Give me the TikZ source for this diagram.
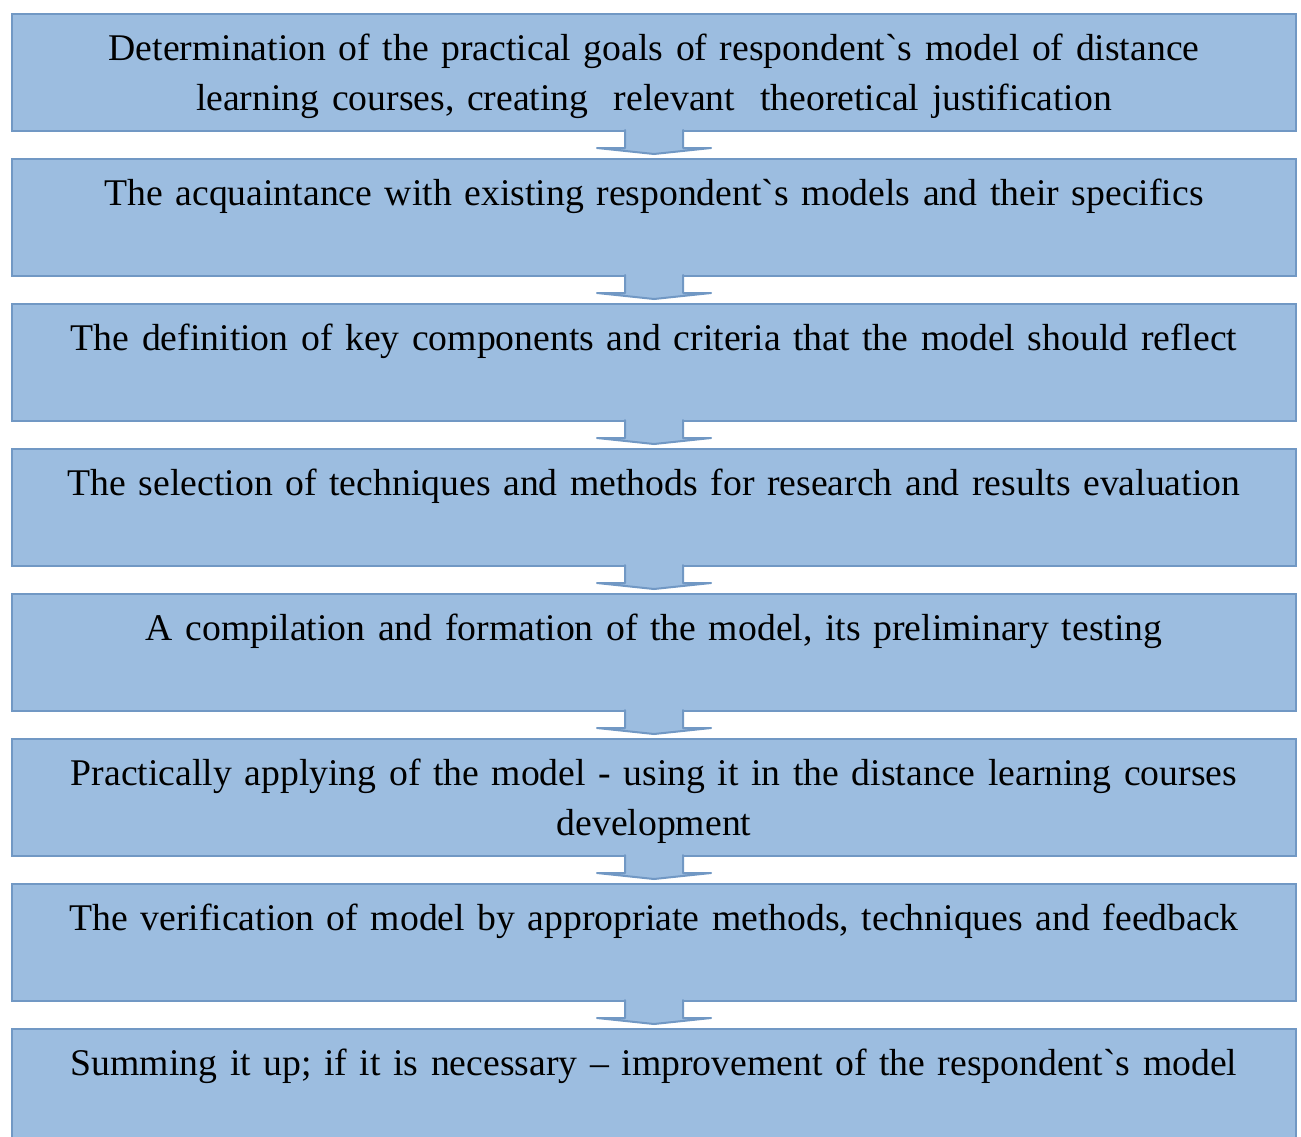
\documentclass[tikz,border=0pt]{standalone}
\usepackage{fontspec}
\setmainfont{Liberation Serif}[Ligatures=TeXOff]
\usetikzlibrary{positioning}
\definecolor{stagefill}{HTML}{9CBDE0}
\definecolor{stageline}{HTML}{7198C4}

\begin{document}
\begin{tikzpicture}[x=1pt,y=1pt,
  stage/.style={draw=stageline, fill=stagefill, line width=2.5pt, inner sep=0pt,
    outer sep=0pt, text width=1284pt, align=center, text height=46pt,
    text depth=71pt, font=\fontsize{37.7}{50}\selectfont},
  flowarrow/.style={draw=stageline, fill=stagefill, line width=2pt,
    line join=round, line cap=round},
  node distance=28pt]
  \clip (0,0) rectangle (1301,-1136);
  \fill[white] (0,0) rectangle (1301,-1136);

  % ============================================================
  %                       PARAMETERS
  % ============================================================
  \def\shaftHalf{29pt}   % half width of the arrow shaft
  \def\headHalf{57pt}    % half width of the arrow head
  \def\shaftLen{17pt}    % shaft length below the box
  \def\tipGap{5pt}       % tip to next box

  % ============================================================
  %                       STAGES
  % ============================================================
  \node[stage, anchor=north] (s1) at (654,-14)
    {Determination of the practical goals of respondent`s model of distance\\
     learning courses, creating \ relevant \ theoretical justification};
  \node[stage, below=of s1] (s2)
    {The acquaintance with existing respondent`s models and their specifics};
  \node[stage, below=of s2] (s3)
    {The definition of key components and criteria that the model should reflect};
  \node[stage, below=of s3] (s4)
    {The selection of techniques and methods for research and results evaluation};
  \node[stage, below=of s4] (s5)
    {A compilation and formation of the model, its preliminary testing};
  \node[stage, below=of s5] (s6)
    {Practically applying of the model - using it in the distance learning courses\\
     development};
  \node[stage, below=of s6] (s7)
    {The verification of model by appropriate methods, techniques and feedback};
  \node[stage, below=of s7] (s8)
    {Summing it up; if it is necessary – improvement of the respondent`s model};

  % ============================================================
  %                       ARROWS
  % ============================================================
  \foreach \a/\b in {s1/s2,s2/s3,s3/s4,s4/s5,s5/s6,s6/s7,s7/s8} {
    \draw[flowarrow] ([xshift=-\shaftHalf,yshift=1pt]\a.south)
      -- ([xshift=-\shaftHalf,yshift=-\shaftLen]\a.south)
      -- ([xshift=-\headHalf,yshift=-\shaftLen]\a.south)
      -- ([yshift=\tipGap]\b.north)
      -- ([xshift=\headHalf,yshift=-\shaftLen]\a.south)
      -- ([xshift=\shaftHalf,yshift=-\shaftLen]\a.south)
      -- ([xshift=\shaftHalf,yshift=1pt]\a.south);
  }

\end{tikzpicture}
\end{document}
